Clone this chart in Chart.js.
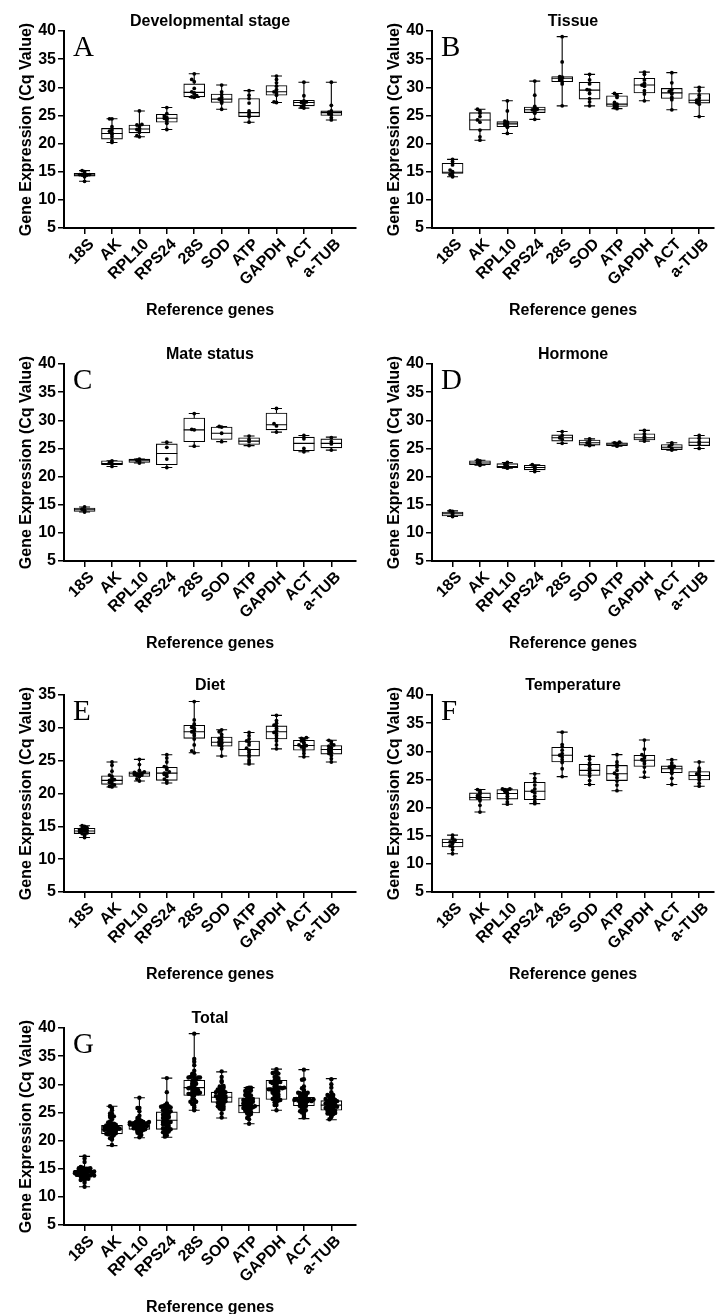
<!DOCTYPE html>
<html>
<head>
<meta charset="utf-8">
<script src="https://cdn.jsdelivr.net/npm/chart.js@4.4.0/dist/chart.umd.min.js"></script>
<style>
  html, body { margin: 0; padding: 0; background: #fff; }
  body { width: 718px; height: 1314px; position: relative; overflow: hidden; }
  .panel { position: absolute; }
</style>
</head>
<body>
<div class="panel" style="left:0;top:0;width:360px;height:332px"><canvas id="chartA"></canvas></div>
<div class="panel" style="left:368px;top:0;width:350px;height:332px"><canvas id="chartB"></canvas></div>
<div class="panel" style="left:0;top:333px;width:360px;height:332px"><canvas id="chartC"></canvas></div>
<div class="panel" style="left:368px;top:333px;width:350px;height:332px"><canvas id="chartD"></canvas></div>
<div class="panel" style="left:0;top:664px;width:360px;height:332px"><canvas id="chartE"></canvas></div>
<div class="panel" style="left:368px;top:664px;width:350px;height:332px"><canvas id="chartF"></canvas></div>
<div class="panel" style="left:0;top:997px;width:360px;height:317px"><canvas id="chartG"></canvas></div>
<script>
// 基因名称
const genes = ['18S', 'AK', 'RPL10', 'RPS24', '28S', 'SOD', 'ATP', 'GAPDH', 'ACT', 'a-TUB'];
const yTicks = [5, 10, 15, 20, 25, 30, 35, 40];
const yTicksDiet = [5, 10, 15, 20, 25, 30, 35];

// 箱线图统计值: [min, q1, median, q3, max]
const devBox = [[13.3, 14.2, 14.4, 14.7, 15.2], [20.2, 20.8, 21.8, 22.7, 24.4], [21.2, 21.9, 22.6, 23.3, 25.8], [22.5, 23.8, 24.5, 25.2, 26.4], [28.2, 28.3, 29.1, 30.6, 32.4],
  [26.1, 27.3, 27.9, 28.8, 30.4], [23.8, 24.8, 25.5, 28.0, 29.4], [27.3, 28.6, 29.2, 30.3, 32.0], [26.3, 26.7, 27.3, 27.7, 30.9], [24.2, 25.0, 25.5, 25.8, 30.9]];
const tissueBox = [[14.1, 14.7, 14.9, 16.5, 17.2], [20.6, 22.4, 24.2, 25.5, 26.1], [21.8, 23.0, 23.5, 23.9, 27.6], [24.3, 25.5, 26.0, 26.5, 31.1], [26.7, 31.0, 31.6, 31.9, 39.0],
  [26.7, 27.9, 29.5, 30.9, 32.3], [26.2, 26.6, 27.0, 28.5, 28.9], [27.6, 29.0, 30.4, 31.6, 32.7], [26.0, 28.0, 29.0, 29.8, 32.6], [24.8, 27.2, 27.7, 28.9, 30.0]];
const mateBox = [[13.7, 13.8, 14.1, 14.4, 14.6], [21.8, 22.1, 22.3, 22.8, 22.8], [22.4, 22.5, 22.8, 23.1, 23.1], [21.6, 22.1, 24.1, 25.8, 26.1], [25.4, 26.2, 28.3, 30.4, 31.2],
  [26.2, 26.6, 27.7, 28.8, 28.9], [25.5, 25.7, 26.3, 26.9, 27.2], [27.9, 28.3, 29.2, 31.3, 32.1], [24.4, 24.6, 25.9, 27.0, 27.3], [24.7, 25.1, 25.9, 26.7, 27.0]];
const hormoneBox = [[12.9, 13.0, 13.4, 13.7, 13.9], [22.0, 22.1, 22.4, 22.8, 22.9], [21.5, 21.6, 21.8, 22.3, 22.5], [20.9, 21.2, 21.6, 22.0, 22.1], [25.9, 26.3, 26.9, 27.4, 28.0],
  [25.5, 25.6, 26.0, 26.5, 26.7], [25.4, 25.5, 25.8, 26.0, 26.1], [26.3, 26.5, 26.9, 27.6, 28.2], [24.7, 24.8, 25.2, 25.7, 26.0], [25.0, 25.5, 26.1, 26.9, 27.3]];
const dietBox = [[13.3, 13.9, 14.3, 14.7, 15.1], [21.0, 21.4, 22.0, 22.7, 24.8], [21.9, 22.6, 23.0, 23.3, 25.2], [21.6, 22.0, 23.1, 24.0, 25.9], [26.2, 28.4, 29.4, 30.4, 34.0],
  [25.7, 27.2, 27.8, 28.6, 29.7], [24.5, 25.7, 26.7, 28.0, 29.3], [26.8, 28.3, 29.4, 30.3, 31.9], [25.6, 26.6, 27.3, 28.1, 28.5], [24.8, 26.0, 26.7, 27.3, 28.1]];
const tempBox = [[11.8, 13.0, 13.8, 14.4, 15.1], [19.2, 21.3, 21.8, 22.6, 23.2], [20.6, 21.5, 22.5, 23.2, 23.3], [20.7, 21.4, 22.9, 24.5, 26.0], [25.5, 28.1, 29.3, 30.7, 33.4],
  [24.1, 25.7, 26.6, 27.7, 29.1], [23.0, 24.8, 26.0, 27.5, 29.4], [25.4, 27.3, 28.4, 29.3, 32.0], [24.1, 26.2, 26.9, 27.4, 28.5], [23.8, 24.9, 25.7, 26.4, 28.1]];
const totalBox = [[11.8, 13.9, 14.3, 14.7, 17.2], [19.1, 21.2, 22.0, 22.7, 26.1], [20.5, 22.0, 22.6, 23.3, 27.6], [20.6, 22.0, 23.6, 25.1, 31.1], [25.4, 28.0, 29.4, 30.7, 39.0],
  [24.0, 26.8, 27.7, 28.6, 32.2], [23.0, 24.9, 26.2, 27.6, 29.4], [25.4, 27.3, 29.3, 30.7, 32.7], [23.9, 26.2, 27.1, 27.7, 32.6], [23.7, 25.4, 26.3, 27.1, 31.0]];

// 每个样本的 Cq 值
const devPts = [
  [13.3, 14.1, 14.3, 14.4, 14.4, 14.5, 14.5, 14.7, 15.0, 15.2],
  [20.2, 20.5, 21.2, 21.6, 21.9, 22.2, 22.4, 23.0, 24.4, 24.4],
  [21.2, 21.4, 22.0, 22.3, 22.5, 22.7, 23.1, 23.3, 23.4, 25.8],
  [22.5, 23.6, 24.0, 24.3, 24.5, 24.6, 24.9, 25.3, 26.4],
  [28.2, 28.3, 28.5, 28.8, 29.0, 29.2, 29.8, 31.0, 31.4, 32.4],
  [26.1, 27.2, 27.5, 27.8, 27.9, 28.2, 28.7, 29.2, 30.4],
  [23.8, 24.8, 25.1, 25.5, 25.8, 27.2, 28.0, 28.6, 29.4],
  [27.3, 27.4, 28.6, 29.0, 29.2, 29.6, 30.2, 30.8, 31.4, 32.0],
  [26.3, 26.5, 26.8, 27.1, 27.3, 27.4, 27.6, 28.5, 30.9],
  [24.2, 24.6, 25.1, 25.3, 25.5, 25.6, 25.8, 26.8, 30.9]
];
const tissuePts = [
  [14.1, 14.3, 14.5, 14.8, 15.0, 15.3, 16.2, 16.8, 17.2],
  [20.6, 21.2, 22.4, 23.8, 24.2, 24.8, 25.4, 25.8, 26.1],
  [21.8, 22.9, 23.1, 23.3, 23.5, 23.6, 23.8, 24.0, 25.8, 27.6],
  [24.3, 25.4, 25.7, 25.9, 26.0, 26.1, 26.3, 26.6, 28.6, 31.1],
  [26.7, 30.6, 31.0, 31.3, 31.6, 31.7, 31.8, 31.9, 34.5, 39.0],
  [26.7, 27.4, 28.0, 28.9, 29.5, 29.6, 30.6, 31.3, 32.3],
  [26.2, 26.4, 26.6, 26.8, 27.0, 27.3, 28.2, 28.6, 28.9],
  [27.6, 28.8, 29.4, 30.2, 30.4, 30.7, 31.3, 32.3, 32.7],
  [26.0, 27.8, 28.2, 28.8, 29.0, 29.3, 29.6, 30.8, 32.6],
  [24.8, 27.0, 27.3, 27.6, 27.7, 28.1, 28.6, 29.4, 30.0]
];
const matePts = [
  [13.7, 14.0, 14.2, 14.6],
  [21.8, 22.3, 22.5, 22.8],
  [22.4, 22.7, 22.9, 23.1],
  [21.6, 23.1, 25.2, 26.1],
  [25.4, 28.3, 28.4, 31.2],
  [26.2, 27.7, 28.8, 28.9],
  [25.5, 26.2, 26.6, 27.2],
  [27.9, 29.0, 29.4, 32.1],
  [24.4, 25.0, 26.7, 27.3],
  [24.7, 25.8, 26.2, 26.9]
];
const hormonePts = [
  [12.9, 13.2, 13.5, 13.8, 13.9],
  [22.0, 22.3, 22.5, 22.8, 22.9],
  [21.5, 21.7, 21.9, 22.2, 22.5],
  [20.9, 21.4, 21.6, 21.8, 22.1],
  [25.9, 26.6, 26.9, 27.3, 28.0],
  [25.5, 25.8, 26.0, 26.4, 26.7],
  [25.4, 25.7, 25.8, 26.0, 26.1],
  [26.3, 26.8, 27.1, 27.6, 28.2],
  [24.7, 25.0, 25.4, 25.7, 26.0],
  [25.0, 25.8, 26.2, 26.8, 27.3]
];
const dietPts = [
  [13.3, 13.6, 13.8, 13.9, 14.0, 14.2, 14.3, 14.3, 14.4, 14.5, 14.6, 14.7, 14.8, 15.0, 15.1],
  [21.0, 21.1, 21.3, 21.5, 21.7, 21.9, 22.0, 22.1, 22.3, 22.6, 22.8, 23.4, 24.3, 24.8],
  [21.9, 22.2, 22.6, 22.7, 22.8, 22.9, 23.0, 23.0, 23.1, 23.2, 23.3, 23.5, 24.4, 25.2],
  [21.6, 21.9, 22.2, 22.6, 22.9, 23.0, 23.1, 23.3, 23.6, 23.9, 24.1, 24.8, 25.4, 25.9],
  [26.2, 26.5, 27.4, 28.3, 28.8, 29.1, 29.4, 29.6, 29.9, 30.1, 30.4, 30.6, 31.2, 34.0],
  [25.7, 26.8, 27.2, 27.4, 27.6, 27.7, 27.8, 27.9, 28.2, 28.4, 28.6, 29.0, 29.4, 29.7],
  [24.5, 24.8, 25.1, 25.6, 25.9, 26.3, 26.6, 26.9, 27.4, 27.8, 28.0, 28.3, 28.8, 29.3],
  [26.8, 27.4, 28.0, 28.4, 28.8, 29.1, 29.3, 29.6, 29.9, 30.2, 30.4, 30.7, 31.1, 31.9],
  [25.6, 26.1, 26.5, 26.8, 27.0, 27.1, 27.3, 27.4, 27.6, 27.8, 28.0, 28.2, 28.4, 28.5],
  [24.8, 25.3, 25.8, 26.1, 26.3, 26.5, 26.7, 26.8, 27.0, 27.2, 27.4, 27.6, 27.9, 28.1]
];
const tempPts = [
  [11.8, 12.5, 13.0, 13.2, 13.6, 13.8, 13.9, 14.2, 14.4, 14.6, 15.1],
  [19.2, 20.4, 21.2, 21.5, 21.7, 21.9, 22.1, 22.4, 22.7, 23.0, 23.2],
  [20.6, 21.0, 21.6, 22.0, 22.4, 22.6, 22.9, 23.1, 23.2, 23.3, 23.3],
  [20.7, 21.0, 21.5, 22.0, 22.6, 22.9, 23.3, 24.0, 24.6, 25.2, 26.0],
  [25.5, 26.9, 28.0, 28.5, 29.0, 29.3, 29.6, 30.2, 30.8, 31.2, 33.4],
  [24.1, 24.8, 25.6, 26.1, 26.5, 26.7, 27.0, 27.5, 27.9, 28.6, 29.1],
  [23.0, 24.0, 24.7, 25.3, 25.8, 26.1, 26.6, 27.2, 27.6, 28.1, 29.4],
  [25.4, 26.3, 27.2, 27.8, 28.2, 28.5, 28.8, 29.1, 29.4, 30.4, 32.0],
  [24.1, 25.2, 26.1, 26.5, 26.8, 27.0, 27.2, 27.3, 27.5, 27.9, 28.5],
  [23.8, 24.3, 24.9, 25.3, 25.6, 25.8, 26.0, 26.3, 26.6, 27.0, 28.1]
];
// 总体 = 所有处理的样本合并
const totalPts = genes.map((g, i) =>
  [devPts, tissuePts, matePts, hormonePts, dietPts, tempPts].flatMap(p => p[i]));

const FONT = '"Liberation Sans", Arial, sans-serif';

// 点的水平散开（同一高度附近的点左右错开）
function spread(vals, step, maxOff) {
  const used = {};
  return vals.map(v => {
    const bin = Math.round(v / 0.4);
    const k = used[bin] = (used[bin] || 0) + 1;
    const n = k - 1;
    const sign = n % 2 ? -1 : 1;
    return sign * ((Math.ceil(n / 2) * step) % maxOff);
  });
}

function boxPlugin(box, title, letter) {
  return {
    id: 'boxplot',
    beforeDatasetsDraw(chart) {
      const { ctx, scales: { x, y } } = chart;
      ctx.save();
      ctx.strokeStyle = '#000';
      ctx.lineWidth = 1.1;
      box.forEach((b, i) => {
        const cx = x.getPixelForValue(i);
        const hw = x.getPixelForValue(i + 0.2) - cx;
        const top = y.getPixelForValue(b[4]);
        const bot = y.getPixelForValue(b[0]);
        ctx.beginPath();
        ctx.moveTo(cx, top); ctx.lineTo(cx, bot);
        ctx.moveTo(cx - hw, top); ctx.lineTo(cx + hw, top);
        ctx.moveTo(cx - hw, bot); ctx.lineTo(cx + hw, bot);
        ctx.stroke();
      });
      ctx.restore();
    },
    afterDatasetDraw(chart, args) {
      if (args.meta.type !== 'bar') return;
      const { ctx, scales: { y } } = chart;
      ctx.save();
      ctx.strokeStyle = '#000';
      ctx.lineWidth = 1.1;
      ctx.beginPath();
      args.meta.data.forEach((el, i) => {
        const ym = y.getPixelForValue(box[i][2]);
        ctx.moveTo(el.x - el.width / 2, ym);
        ctx.lineTo(el.x + el.width / 2, ym);
      });
      ctx.stroke();
      ctx.restore();
    },
    afterDraw(chart) {
      const { ctx, chartArea } = chart;
      ctx.save();
      ctx.fillStyle = '#000';
      ctx.font = 'bold 16px ' + FONT;
      ctx.textAlign = 'center';
      ctx.textBaseline = 'middle';
      ctx.fillText(title, (chartArea.left + chartArea.right) / 2, chartArea.top - 9);
      ctx.font = '29px "Liberation Serif", "Times New Roman", serif';
      ctx.textAlign = 'left';
      ctx.textBaseline = 'alphabetic';
      ctx.fillText(letter, chartArea.left + 9, chartArea.top + 25);
      ctx.restore();
    }
  };
}

function makePanel(id, title, letter, box, pts, o) {
  const bars = box.map((b, i) => ({ x: i, y: [b[1], b[3]] }));
  const dots = [];
  pts.forEach((vals, i) => {
    const offs = spread(vals, o.step, o.maxOff);
    vals.forEach((v, k) => dots.push({ x: i + offs[k], y: v }));
  });
  const h = o.h;
  new Chart(document.getElementById(id), {
    data: {
      datasets: [
        { type: 'bar', data: bars, backgroundColor: '#fff', borderColor: '#000', borderWidth: 1.1,
          borderSkipped: false, barThickness: 21, order: 2 },
        { type: 'scatter', data: dots, backgroundColor: '#000', borderWidth: 0, pointRadius: o.r, order: 1 }
      ]
    },
    options: {
      responsive: true,
      maintainAspectRatio: false,
      animation: false,
      layout: { padding: { top: 31, left: 0, right: 0, bottom: 0 } },
      plugins: { legend: { display: false }, tooltip: { enabled: false } },
      scales: {
        x: {
          type: 'linear', min: -0.75, max: o.xMax, offset: false,
          afterBuildTicks: s => { s.ticks = genes.map((g, i) => ({ value: i })); },
          afterFit: s => { s.height = h - 228; },
          ticks: {
            callback: v => genes[v], autoSkip: false, minRotation: 45, maxRotation: 45,
            labelOffset: 7, color: '#000', padding: 1, font: { family: FONT, size: 16, weight: 'bold' }
          },
          grid: { offset: false, drawOnChartArea: false, drawTicks: true, tickLength: 6, color: '#000', lineWidth: 1.5 },
          border: { color: '#000', width: 2 },
          title: { display: true, text: 'Reference genes', color: '#000',
            font: { family: FONT, size: 16, weight: 'bold' }, padding: { top: 0, bottom: h - 320 } }
        },
        y: {
          min: o.yTicks[0], max: o.yTicks[o.yTicks.length - 1],
          afterBuildTicks: s => { s.ticks = o.yTicks.map(v => ({ value: v })); },
          afterFit: s => { s.width = 64; },
          ticks: { color: '#000', padding: 2, font: { family: FONT, size: 16, weight: 'bold' } },
          grid: { offset: false, drawOnChartArea: false, drawTicks: true, tickLength: 6, color: '#000', lineWidth: 1.5 },
          border: { color: '#000', width: 2 },
          title: { display: true, text: 'Gene Expression (Cq Value)', color: '#000',
            font: { family: FONT, size: 16, weight: 'bold' }, padding: { top: 17, bottom: 0 } }
        }
      }
    },
    plugins: [boxPlugin(box, title, letter)]
  });
}

const left = { h: 332, xMax: 9.9, yTicks: yTicks, step: 0.09, maxOff: 0.34, r: 1.9 };
const right = { h: 332, xMax: 9.54, yTicks: yTicks, step: 0.09, maxOff: 0.34, r: 1.9 };

makePanel('chartA', 'Developmental stage', 'A', devBox, devPts, left);
makePanel('chartB', 'Tissue', 'B', tissueBox, tissuePts, right);
makePanel('chartC', 'Mate status', 'C', mateBox, matePts, left);
makePanel('chartD', 'Hormone', 'D', hormoneBox, hormonePts, right);
makePanel('chartE', 'Diet', 'E', dietBox, dietPts, Object.assign({}, left, { yTicks: yTicksDiet }));
makePanel('chartF', 'Temperature', 'F', tempBox, tempPts, right);
makePanel('chartG', 'Total', 'G', totalBox, totalPts, Object.assign({}, left, { h: 317, step: 0.07, maxOff: 0.36, r: 2.2 }));
</script>
</body>
</html>
